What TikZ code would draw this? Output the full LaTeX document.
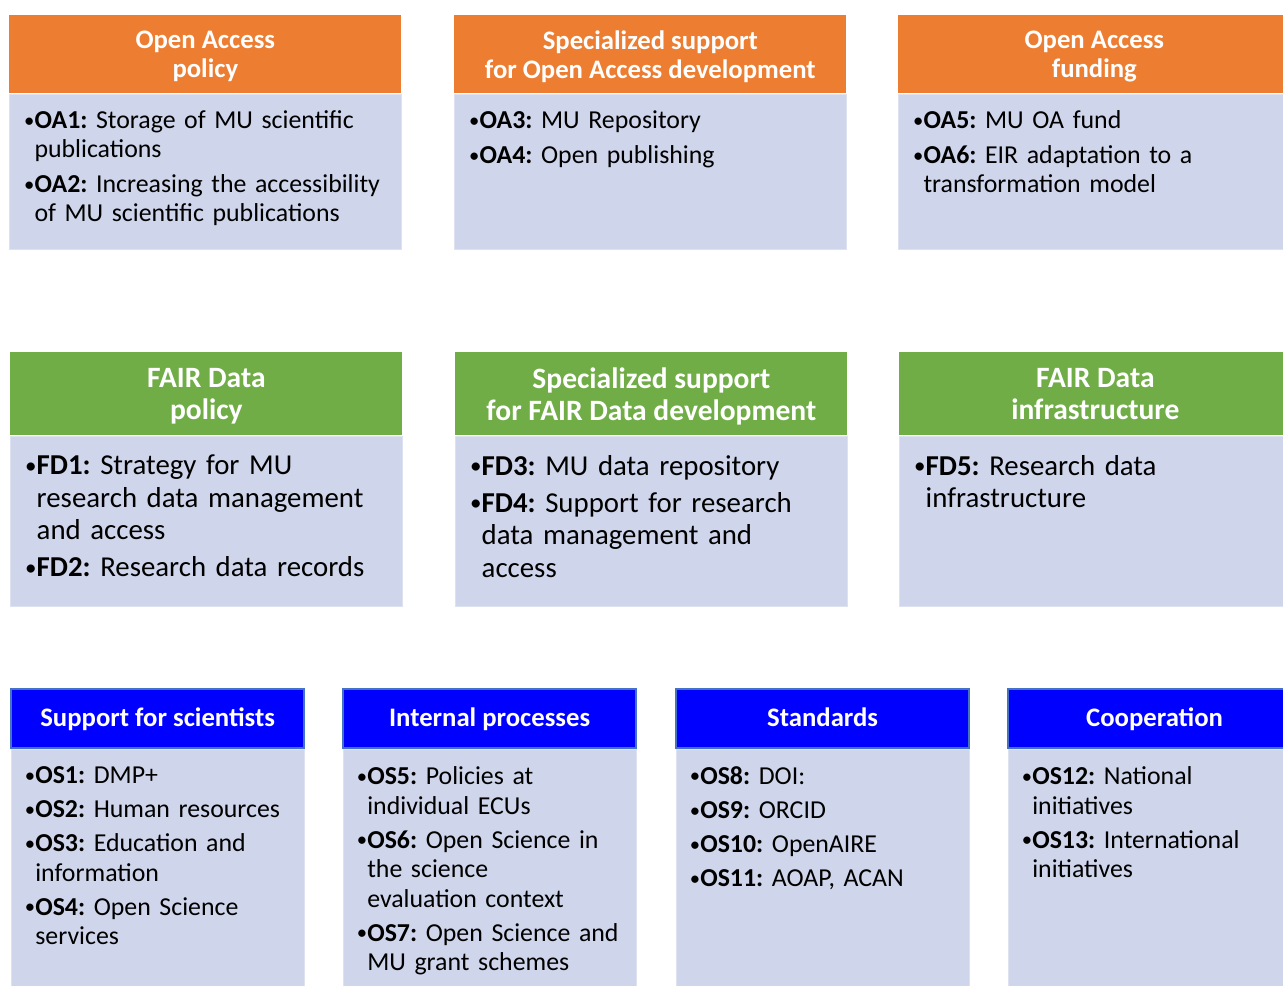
\documentclass[tikz,border=0pt]{standalone}
\usepackage{fontspec}
\usepackage{graphicx}
\setmainfont{Carlito}
\usetikzlibrary{positioning}

\definecolor{oaorange}{HTML}{ED7D31}
\definecolor{fdgreen}{HTML}{70AD47}
\definecolor{osblue}{HTML}{0000FF}
\definecolor{osedge}{HTML}{4472C4}
\definecolor{bodyfill}{HTML}{CFD5EA}
\definecolor{bodyedge}{HTML}{DDE1F0}

\newcommand{\goal}[2]{\hangindent=0.4em\hangafter=1\noindent
  \makebox[0.4em][l]{\raisebox{0.06em}{\scalebox{0.8}{•}}}\textbf{#1:}\ #2\par}

\tikzset{
  hdr/.style={inner sep=0pt, align=center, text=white, text depth=0pt, anchor=north west},
  oahdr/.style={hdr, fill=oaorange, minimum width=7.84cm, minimum height=1.56cm,
    font=\bfseries\fontsize{15.2}{16.5}\selectfont},
  fdhdr/.style={hdr, fill=fdgreen, minimum width=7.84cm, minimum height=1.66cm,
    font=\bfseries\fontsize{16.8}{18.3}\selectfont},
  oshdr/.style={hdr, fill=osblue, draw=osedge, line width=1.3pt, minimum width=5.86cm,
    minimum height=1.18cm, text depth=2pt, font=\bfseries\fontsize{15.2}{16.5}\selectfont},
  body/.style={fill=bodyfill, draw=bodyedge, line width=0.6pt, inner sep=0pt},
  goals/.style={inner sep=0pt, align=left, anchor=north west},
  oagoals/.style={goals, text width=7.5cm,
    font=\fontsize{14.7}{16.5}\selectfont\setlength{\parskip}{3.4pt}},
  fdgoals/.style={goals, text width=7.5cm,
    font=\fontsize{16.4}{18.5}\selectfont\setlength{\parskip}{2.6pt}},
  osgoals/.style={goals, text width=5.7cm,
    font=\fontsize{14.7}{16.8}\selectfont\setlength{\parskip}{2.6pt}}
}

\begin{document}
\begin{tikzpicture}
\useasboundingbox (0,0) rectangle (25.66,-19.72);
\clip (0,0) rectangle (25.66,-19.72);

% Open Access.
\node[oahdr] (oapol) at (0.18,-0.30) {Open Access\\policy};
\node[oahdr] (oasup) at (9.08,-0.30) {Specialized support\\for Open Access development};
\node[oahdr] (oafun) at (17.96,-0.30) {Open Access\\funding};

\node[body, minimum width=7.84cm, minimum height=3.1cm, below=0pt of oapol] (oapolb) {};
\node[body, minimum width=7.84cm, minimum height=3.1cm, below=0pt of oasup] (oasupb) {};
\node[body, minimum width=7.84cm, minimum height=3.1cm, below=0pt of oafun] (oafunb) {};

\node[oagoals, below right=0.34cm and 0.3cm of oapolb.north west] (oapolt) {%
  \goal{OA1}{Storage of MU scientific\newline publications}
  \goal{OA2}{Increasing the accessibility\newline of MU scientific publications}};
\node[oagoals, below right=0.34cm and 0.3cm of oasupb.north west] (oasupt) {%
  \goal{OA3}{MU Repository}
  \goal{OA4}{Open publishing}};
\node[oagoals, below right=0.34cm and 0.3cm of oafunb.north west] (oafunt) {%
  \goal{OA5}{MU OA fund}
  \goal{OA6}{EIR adaptation to a\newline transformation model}};

% FAIR Data.
\node[fdhdr] (fdpol) at (0.20,-7.04) {FAIR Data\\policy};
\node[fdhdr] (fdsup) at (9.10,-7.04) {Specialized support\\for FAIR Data development};
\node[fdhdr] (fdinf) at (17.98,-7.04) {FAIR Data\\infrastructure};

\node[body, minimum width=7.84cm, minimum height=3.4cm, below=0pt of fdpol] (fdpolb) {};
\node[body, minimum width=7.84cm, minimum height=3.4cm, below=0pt of fdsup] (fdsupb) {};
\node[body, minimum width=7.84cm, minimum height=3.4cm, below=0pt of fdinf] (fdinfb) {};

\node[fdgoals, below right=0.38cm and 0.3cm of fdpolb.north west] (fdpolt) {%
  \goal{FD1}{Strategy for MU\newline research data management\newline and access}
  \goal{FD2}{Research data records}};
\node[fdgoals, below right=0.38cm and 0.3cm of fdsupb.north west] (fdsupt) {%
  \goal{FD3}{MU data repository}
  \goal{FD4}{Support for research\newline data management and\newline access}};
\node[fdgoals, below right=0.38cm and 0.3cm of fdinfb.north west] (fdinft) {%
  \goal{FD5}{Research data\newline infrastructure}};

% Open Science.
\node[oshdr] (ossci) at (0.20,-13.76) {Support for scientists};
\node[oshdr] (osint) at (6.84,-13.76) {Internal processes};
\node[oshdr] (osstd) at (13.50,-13.76) {Standards};
\node[oshdr] (oscoo) at (20.14,-13.76) {Cooperation};

\node[body, minimum width=5.86cm, minimum height=5.4cm, below=0pt of ossci] (osscib) {};
\node[body, minimum width=5.86cm, minimum height=5.4cm, below=0pt of osint] (osintb) {};
\node[body, minimum width=5.86cm, minimum height=5.4cm, below=0pt of osstd] (osstdb) {};
\node[body, minimum width=5.86cm, minimum height=5.4cm, below=0pt of oscoo] (oscoob) {};

\node[osgoals, below right=0.34cm and 0.28cm of osscib.north west] (osscit) {%
  \goal{OS1}{DMP+}
  \goal{OS2}{Human resources}
  \goal{OS3}{Education and\newline information}
  \goal{OS4}{Open Science\newline services}};
\node[osgoals, below right=0.34cm and 0.28cm of osintb.north west] (osintt) {%
  \goal{OS5}{Policies at\newline individual ECUs}
  \goal{OS6}{Open Science in\newline the science\newline evaluation context}
  \goal{OS7}{Open Science and\newline MU grant schemes}};
\node[osgoals, below right=0.34cm and 0.28cm of osstdb.north west] (osstdt) {%
  \goal{OS8}{DOI:}
  \goal{OS9}{ORCID}
  \goal{OS10}{OpenAIRE}
  \goal{OS11}{AOAP, ACAN}};
\node[osgoals, below right=0.34cm and 0.28cm of oscoob.north west] (oscoot) {%
  \goal{OS12}{National\newline initiatives}
  \goal{OS13}{International\newline initiatives}};
\end{tikzpicture}
\end{document}
